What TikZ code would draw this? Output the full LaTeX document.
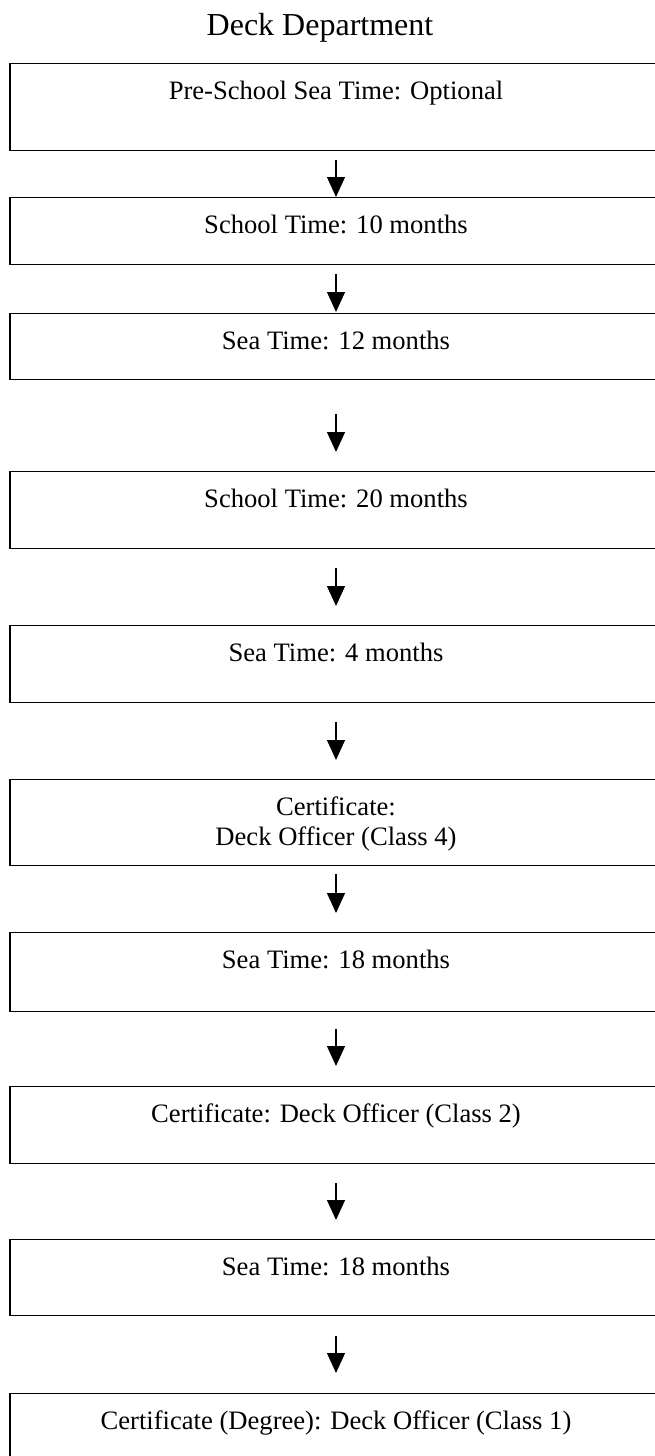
\documentclass[tikz,border=0pt]{standalone}
\usepackage{fontspec}
\setmainfont{Liberation Serif}
\usetikzlibrary{arrows.meta}

\begin{document}
\begin{tikzpicture}[x=1pt,y=-1pt]
\tikzstyle{stage}=[draw,line width=1.2pt,minimum width=652pt,inner sep=0pt,anchor=north]
\tikzstyle{boxtext}=[font=\fontsize{26.6}{30}\selectfont,align=center,anchor=north,inner sep=0pt]
\tikzstyle{flow}=[draw,line width=1.3pt,-{Triangle[width=18pt,length=20pt]},shorten <=19pt,shorten >=19pt]
\def \midx {336}
\useasboundingbox (0,0) rectangle (655,1456);
\clip (0,0) rectangle (655,1456);
\node[font=\fontsize{32}{38}\selectfont,anchor=base] (title) at (320,35) {Deck Department};
\node[stage,minimum height=87pt] (s1) at (\midx,63) {};
\node[stage,minimum height=67pt] (s2) at (\midx,197) {};
\node[stage,minimum height=66pt] (s3) at (\midx,313) {};
\node[stage,minimum height=77pt] (s4) at (\midx,471) {};
\node[stage,minimum height=77pt] (s5) at (\midx,625) {};
\node[stage,minimum height=86pt] (s6) at (\midx,779) {};
\node[stage,minimum height=79pt] (s7) at (\midx,932) {};
\node[stage,minimum height=77pt] (s8) at (\midx,1086) {};
\node[stage,minimum height=76pt] (s9) at (\midx,1239) {};
\node[stage,minimum height=90pt] (s10) at (\midx,1393) {};
\node[boxtext] (t1) at ([yshift=-18pt]s1.north) {Pre-School Sea Time: Optional};
\node[boxtext] (t2) at ([yshift=-18pt]s2.north) {School Time: 10 months};
\node[boxtext] (t3) at ([yshift=-18pt]s3.north) {Sea Time: 12 months};
\node[boxtext] (t4) at ([yshift=-18pt]s4.north) {School Time: 20 months};
\node[boxtext] (t5) at ([yshift=-18pt]s5.north) {Sea Time: 4 months};
\node[boxtext] (t6) at ([yshift=-18pt]s6.north) {Certificate:\\Deck Officer (Class 4)};
\node[boxtext] (t7) at ([yshift=-18pt]s7.north) {Sea Time: 18 months};
\node[boxtext] (t8) at ([yshift=-18pt]s8.north) {Certificate: Deck Officer (Class 2)};
\node[boxtext] (t9) at ([yshift=-18pt]s9.north) {Sea Time: 18 months};
\node[boxtext] (t10) at ([yshift=-18pt]s10.north) {Certificate (Degree): Deck Officer (Class 1)};
\path[flow,shorten <=9pt,shorten >=0pt] (s1) -- (s2);
\path[flow,shorten <=9pt,shorten >=1pt] (s2) -- (s3);
\path[flow,shorten <=34pt] (s3) -- (s4);
\path[flow] (s4) -- (s5);
\path[flow] (s5) -- (s6);
\path[flow,shorten <=8pt] (s6) -- (s7);
\path[flow,shorten <=17pt,shorten >=20pt] (s7) -- (s8);
\path[flow] (s8) -- (s9);
\path[flow,shorten <=20pt,shorten >=20pt] (s9) -- (s10);
\end{tikzpicture}
\end{document}
